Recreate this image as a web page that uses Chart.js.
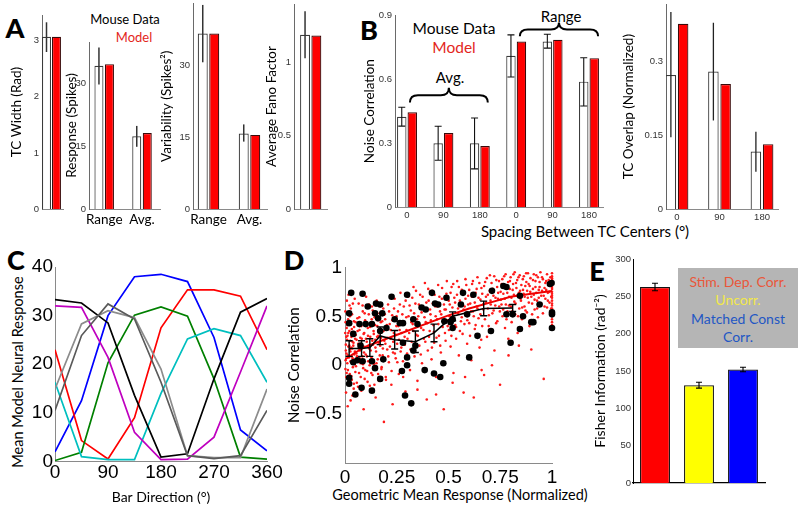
<!DOCTYPE html>
<html>
<head>
<meta charset="utf-8">
<title>Mouse data vs model</title>
<script src="https://cdn.jsdelivr.net/npm/chart.js@4.4.1/dist/chart.umd.min.js"></script>
<style>
  html, body { margin: 0; padding: 0; background: #fff; }
  #fig { position: relative; width: 800px; height: 511px; overflow: hidden; font-family: Lato, "Noto Sans", sans-serif; color: #000; }
  #fig canvas { position: absolute; }
  .lbl { position: absolute; white-space: nowrap; line-height: 1; transform: translate(-50%, -50%); }
  .rot { transform: translate(-50%, -50%) rotate(-90deg); }
  .letter { font-weight: 900; font-size: 27px; }
  .red { color: #e3261c; }
  #legendE { position: absolute; left: 678px; top: 268px; width: 120px; height: 80px; background: #b5b5b5;
             text-align: center; font-size: 14px; line-height: 18.3px; padding-top: 5px; box-sizing: border-box; }
</style>
</head>
<body>
<div id="fig">
  <div class="lbl letter" style="left:15px; top:27px">A</div>
  <div class="lbl letter" style="left:369px; top:29px">B</div>
  <div class="lbl letter" style="left:16px; top:259px">C</div>
  <div class="lbl letter" style="left:294px; top:259px">D</div>
  <div class="lbl letter" style="left:597px; top:270px">E</div>

  <div class="lbl" style="left:125px; top:19px; font-size:13px">Mouse Data</div>
  <div class="lbl red" style="left:134px; top:37px; font-size:13px">Model</div>
  <div class="lbl" style="left:454px; top:29px; font-size:15.5px">Mouse Data</div>
  <div class="lbl red" style="left:454px; top:48px; font-size:15.5px">Model</div>
  <div class="lbl" style="left:450px; top:77px; font-size:15px">Avg.</div>
  <div class="lbl" style="left:561px; top:16px; font-size:15px">Range</div>
  <div class="lbl" style="left:585px; top:231px; font-size:15px">Spacing Between TC Centers (°)</div>
  <div class="lbl rot" style="left:18px; top:372px; font-size:14.5px">Mean Model Neural Response</div>
  <div class="lbl" style="left:460px; top:495px; font-size:14.5px">Geometric Mean Response (Normalized)</div>

  <div id="legendE">
    <div style="color:#e9573a">Stim. Dep. Corr.</div>
    <div style="color:#f2e84a">Uncorr.</div>
    <div style="color:#2357c4">Matched Const<br>Corr.</div>
  </div>
</div>

<script>
// ---------- panel A : tuning curve statistics ----------
const widthMouse = [3.07];
const widthMouseLo = [2.80];
const widthMouseHi = [3.33];
const widthModel = [3.07];
const widthTicks = [0, 1, 2, 3];

const statLabels = ["Range", "Avg."];
const respMouse = [34.3, 17.4];
const respMouseLo = [29.8, 14.9];
const respMouseHi = [38.7, 19.9];
const respModel = [34.7, 18.2];
const respTicks = [0, 15, 30];

const varMouse = [36.7, 15.8];
const varMouseLo = [30.7, 14.1];
const varMouseHi = [42.7, 17.7];
const varModel = [36.7, 15.5];
const varTicks = [0, 15, 30];

const fanoMouse = [1.19];
const fanoMouseLo = [1.03];
const fanoMouseHi = [1.35];
const fanoModel = [1.185];
const fanoTicks = [0, 0.5, 1];

// ---------- panel B : noise correlation and TC overlap vs spacing ----------
const spacingLabels = ["0", "90", "180", "0", "90", "180"];
const ncMouse = [0.424, 0.30, 0.30, 0.709, 0.776, 0.588];
const ncMouseLo = [0.38, 0.22, 0.18, 0.61, 0.745, 0.474];
const ncMouseHi = [0.468, 0.379, 0.418, 0.807, 0.81, 0.70];
const ncModel = [0.445, 0.348, 0.287, 0.776, 0.784, 0.698];
const ncTicks = [0, 0.3, 0.6, 0.9];
// curly braces over the "Avg." and "Range" groups (x in group index, y in correlation)
const ncBraces = [
  { from: 0.08, to: 2.22, base: 0.49, tip: 0.56 },
  { from: 3.10, to: 5.25, base: 0.80, tip: 0.865 }
];

const overlapLabels = ["0", "90", "180"];
const overlapMouse = [0.272, 0.279, 0.117];
const overlapMouseLo = [0.146, 0.18, 0.076];
const overlapMouseHi = [0.40, 0.378, 0.157];
const overlapModel = [0.376, 0.254, 0.132];
const overlapTicks = [0, 0.15, 0.3];

// ---------- panel C : model tuning curves ----------
const barDirections = [0, 45, 90, 135, 180, 225, 270, 315, 360];
const dirTicks = [0, 90, 180, 270, 360];
const respTicksC = [0, 10, 20, 30, 40];
const curveBlue = [2, 12.5, 30, 38, 38.5, 37, 25.5, 6.5, 2.2];
const curveRed = [23, 4.3, 0.5, 9, 27.5, 35.3, 35.3, 34, 23];
const curveGreen = [0.2, 1.9, 20.3, 30.1, 31.8, 29.9, 17, 0.9, 0.5];
const curveCyan = [16.3, 1, 0.4, 0.4, 14, 25.2, 27.3, 25.9, 16.3];
const curveMagenta = [32, 31.7, 21.4, 6, 0.4, 0.5, 5, 18.4, 32];
const curveBlack = [33.3, 32.6, 28.5, 13.6, 0.9, 1.6, 17, 30.7, 33.5];
const curveDarkGray = [10.5, 25.9, 32.4, 29.3, 16.3, 1.2, 0.6, 1.2, 10.5];
const curveLightGray = [14.9, 28.3, 31, 29.6, 19, 1.2, 0.8, 0.8, 14.9];

// ---------- panel D : noise correlation vs geometric mean response ----------
const gmTicks = [0, 0.25, 0.5, 0.75, 1];
const ncTicksD = [-0.5, 0, 0.5, 1];
// model neuron pairs [response, correlation]
const modelPairs = [
  [0.003,0.05],[0.004,0.21],[0.006,-0.12],[0.008,0.38],[0.002,0.55],[0.005,-0.28],[0.007,0.12],[0.009,0.66],
  [0.011,0.02],[0.012,0.3],[0.014,-0.05],[0.015,0.47],[0.016,0.19],[0.018,-0.2],[0.019,0.08],[0.021,0.35],
  [0.022,0.61],[0.023,-0.09],[0.025,0.25],[0.026,0.14],[0.027,-0.36],[0.029,0.42],[0.03,0.03],[0.031,0.29],
  [0.033,-0.15],[0.034,0.52],[0.035,0.17],[0.037,0.07],[0.038,-0.02],[0.039,0.34],[0.041,0.23],[0.042,-0.24],
  [0.043,0.45],[0.045,0.11],[0.046,0.01],[0.047,0.68],[0.049,0.27],[0.05,-0.07],[0.001,0.33],[0.002,-0.04],
  [0.003,0.44],[0.013,-0.42],[0.017,0.72],[0.028,0.58],[0.036,-0.31],[0.044,0.39],[0.024,0.16],[0.032,0.09],
  [0.04,0.2],[0.01,0.26],
  [0.052,0.31],[0.055,0.12],[0.057,-0.18],[0.06,0.48],[0.062,0.05],[0.064,0.22],[0.066,0.63],[0.068,-0.08],
  [0.07,0.36],[0.072,0.15],[0.075,0.02],[0.077,0.41],[0.079,-0.26],[0.081,0.27],[0.084,0.09],[0.086,0.55],
  [0.088,-0.03],[0.09,0.19],[0.093,0.33],[0.095,-0.14],[0.097,0.46],[0.1,0.11],[0.102,0.7],[0.105,0.24],
  [0.107,-0.06],[0.11,0.38],[0.112,0.04],[0.115,0.52],[0.117,0.17],[0.12,-0.21],[0.122,0.29],[0.125,0.43],
  [0.128,0.08],[0.13,0.6],[0.133,-0.1],[0.135,0.21],[0.138,0.35],[0.14,0.01],[0.143,0.49],[0.146,0.26],
  [0.148,-0.33],[0.15,0.14],[0.153,0.66],[0.156,0.4],[0.158,0.06],[0.161,0.3],[0.164,-0.16],[0.167,0.53],
  [0.17,0.2],[0.173,0.44],[0.176,-0.04],[0.179,0.34],[0.182,0.1],[0.185,0.58],[0.188,-0.58],[0.19,0.25],
  [0.194,0.47],[0.197,-0.12],[0.2,0.37],[0.204,0.16],[0.208,0.62],[0.212,0.03],[0.216,0.42],[0.22,0.27],
  [0.224,-0.2],[0.228,0.51],[0.232,0.13],[0.236,0.33],[0.24,0.68],[0.245,0.07],[0.248,0.4],
  [0.252,0.22],[0.256,0.55],[0.26,-0.09],[0.264,0.36],[0.268,0.74],[0.272,0.18],[0.276,0.45],[0.28,0.04],
  [0.284,0.6],[0.288,0.29],[0.292,-0.27],[0.296,0.49],[0.3,0.12],[0.305,0.7],[0.31,0.33],[0.314,-0.05],
  [0.318,0.56],[0.322,0.24],[0.327,0.42],[0.331,0.8],[0.336,0.09],[0.34,0.63],[0.345,0.31],[0.35,-0.16],
  [0.354,0.5],[0.359,0.2],[0.363,0.72],[0.368,0.38],[0.372,0.02],[0.377,0.58],[0.381,0.27],[0.386,0.84],
  [0.39,0.44],[0.395,-0.35],[0.4,0.15],[0.404,0.66],[0.409,0.35],[0.413,0.52],[0.418,0.06],[0.422,0.76],
  [0.427,0.41],[0.431,0.23],[0.436,0.6],[0.44,-0.12],[0.445,0.47],[0.45,0.82],[0.454,0.3],[0.459,0.55],
  [0.463,0.13],[0.468,0.68],[0.472,0.39],[0.477,-0.45],[0.481,0.57],[0.486,0.25],[0.49,0.73],[0.495,0.46],
  [0.502,0.36],[0.506,0.62],[0.51,0.19],[0.515,0.8],[0.52,0.5],[0.524,-0.08],[0.528,0.69],[0.533,0.41],
  [0.537,0.27],[0.542,0.86],[0.546,0.58],[0.55,0.1],[0.555,0.66],[0.56,0.45],[0.564,0.77],[0.568,0.32],
  [0.573,-0.28],[0.578,0.6],[0.582,0.88],[0.586,0.52],[0.59,0.22],[0.595,0.71],[0.6,0.43],[0.605,0.63],
  [0.61,0.05],[0.614,0.83],[0.618,0.55],[0.622,-0.33],[0.627,0.37],[0.631,0.74],[0.636,0.6],[0.64,0.9],
  [0.645,0.48],[0.65,0.18],[0.654,0.67],[0.659,0.79],[0.663,0.4],[0.668,0.57],[0.672,-0.1],[0.677,0.85],
  [0.681,0.64],[0.686,0.29],[0.69,0.72],[0.695,0.51],[0.7,0.92],[0.704,0.62],[0.709,0.35],[0.713,0.78],
  [0.718,0.56],[0.722,0.15],[0.727,0.69],[0.731,0.87],[0.736,0.45],[0.74,0.74],[0.745,0.6],[0.749,-0.2],
  [0.753,0.67],[0.757,0.83],[0.761,0.5],[0.765,0.73],[0.769,0.91],[0.773,0.38],[0.777,0.62],[0.781,0.79],
  [0.785,0.55],[0.789,0.27],[0.793,0.7],[0.797,0.86],[0.801,0.6],[0.805,0.44],[0.81,0.77],[0.814,0.93],
  [0.818,0.65],[0.822,0.52],[0.826,0.84],[0.83,0.71],[0.834,0.33],[0.838,0.9],[0.842,0.58],[0.846,0.76],
  [0.85,0.66],[0.855,0.47],[0.859,0.88],[0.863,0.73],[0.867,0.6],[0.871,0.81],[0.875,0.94],[0.879,0.54],
  [0.883,0.69],[0.887,0.83],[0.891,0.4],[0.895,0.75],[0.9,0.16],[0.904,0.63],[0.908,0.87],[0.912,0.72],
  [0.916,0.57],[0.92,0.8],[0.924,0.92],[0.928,0.66],[0.932,0.49],[0.936,0.77],[0.94,0.85],[0.944,0.61],
  [0.948,0.71],[0.952,0.9],[0.956,0.53],[0.96,-0.14],[0.964,0.79],[0.968,0.68],[0.972,0.86],[0.976,0.59],
  [0.98,0.74],[0.984,0.82],[0.988,0.64],[0.992,0.9],[0.996,0.7],
  [1,0.41],[1,0.47],[1,0.53],[1,0.58],[1,0.63],[1,0.66],[1,0.71],[1,0.75],[1,0.8],[1,0.83],[1,0.87],[1,0.91],
  // second pass over the dense parts of the cloud
  [0.004,0.15],[0.006,0.29],[0.008,-0.08],[0.011,0.41],[0.013,0.1],[0.016,0.33],[0.019,-0.16],[0.021,0.2],
  [0.024,0.5],[0.026,0.04],[0.029,0.18],[0.031,-0.11],[0.033,0.37],[0.036,0.24],[0.038,0.63],[0.041,0.06],
  [0.043,-0.19],[0.046,0.31],[0.048,0.14],[0.051,0.44],[0.053,-0.01],[0.056,0.26],[0.058,0.09],[0.061,0.35],
  [0.063,-0.22],[0.066,0.17],[0.069,0.49],[0.071,0.07],[0.074,0.28],[0.076,-0.12],[0.079,0.4],[0.082,0.19],
  [0.085,0.61],[0.087,0.01],[0.09,0.32],[0.092,0.13],[0.095,0.53],[0.098,-0.05],[0.101,0.27],[0.104,0.44],
  [0.106,0.09],[0.109,-0.17],[0.111,0.3],[0.114,0.2],[0.116,0.62],[0.119,0.0],[0.121,0.39],[0.124,0.15],
  [0.127,-0.08],[0.129,0.47],[0.132,0.25],[0.134,0.56],[0.137,0.05],[0.139,0.32],[0.142,-0.2],[0.145,0.41],
  [0.147,0.18],[0.15,0.54],[0.152,0.02],[0.155,0.29],[0.157,0.46],[0.16,-0.09],[0.163,0.23],[0.166,0.37],
  [0.168,0.1],[0.171,0.6],[0.174,0.28],[0.177,-0.02],[0.18,0.45],[0.183,0.17],[0.186,0.35],[0.189,0.06],
  [0.192,0.52],[0.195,0.22],[0.198,-0.15],[0.202,0.41],[0.205,0.28],[0.209,0.09],[0.213,0.55],[0.217,0.19],
  [0.221,0.36],[0.225,-0.06],[0.229,0.46],[0.233,0.24],[0.237,0.58],[0.241,0.12],[0.245,0.31],[0.249,0.5],
  [0.253,0.03],[0.257,0.4],[0.261,0.26],[0.265,0.62],[0.269,0.14],[0.273,0.33],[0.277,0.52],[0.281,-0.12],
  [0.285,0.43],[0.289,0.21],[0.293,0.66],[0.297,0.36],
  [0.302,0.27],[0.307,0.5],[0.312,0.61],[0.316,0.16],[0.321,0.44],[0.325,0.69],[0.33,0.35],[0.334,0.53],
  [0.339,0.22],[0.343,0.76],[0.348,0.47],[0.352,0.3],[0.357,0.62],[0.361,0.41],[0.366,0.11],[0.37,0.54],
  [0.375,0.7],[0.379,0.36],[0.384,0.49],[0.388,0.24],[0.393,0.64],[0.397,0.43],[0.402,0.78],[0.406,0.29],
  [0.411,0.57],[0.415,0.46],[0.42,0.18],[0.424,0.63],[0.429,0.34],[0.433,0.72],[0.438,0.5],[0.442,0.28],
  [0.447,0.6],[0.451,0.42],[0.456,0.7],[0.46,0.2],[0.465,0.52],[0.469,0.79],[0.474,0.45],[0.478,0.62],
  [0.483,0.33],[0.487,0.57],[0.492,0.86],[0.496,0.4],[0.501,0.66],[0.505,0.5],[0.51,0.74],[0.514,0.3],
  [0.519,0.59],[0.523,0.83],[0.528,0.47],[0.532,0.64],[0.537,0.39],[0.541,0.72],[0.546,0.53],[0.55,0.8],
  [0.555,0.35],[0.559,0.61],[0.564,0.49],[0.568,0.75],[0.573,0.57],[0.577,0.42],[0.582,0.68],[0.586,0.82],
  [0.591,0.46],[0.595,0.62],[0.6,0.77],[0.604,0.3],[0.609,0.55],[0.613,0.7],[0.618,0.86],[0.622,0.5],
  [0.627,0.64],[0.631,0.41],[0.636,0.78],[0.64,0.58],[0.645,0.69],[0.649,0.84],[0.654,0.52],[0.658,0.26],
  [0.663,0.73],[0.667,0.62],[0.672,0.81],[0.676,0.47],[0.681,0.7],[0.685,0.89],[0.69,0.58],[0.694,0.4],
  [0.699,0.76],[0.703,0.66],[0.708,0.84],[0.712,0.53],[0.717,0.71],[0.721,0.91],[0.726,0.61],[0.73,0.43],
  [0.735,0.8],[0.739,0.68],[0.744,0.86],[0.748,0.55],
  [0.752,0.75],[0.756,0.62],[0.76,0.88],[0.764,0.57],[0.768,0.8],[0.772,0.68],[0.776,0.93],[0.78,0.47],
  [0.784,0.74],[0.788,0.85],[0.792,0.61],[0.796,0.78],[0.8,0.9],[0.804,0.69],[0.808,0.55],[0.812,0.83],
  [0.816,0.72],[0.82,0.95],[0.824,0.63],[0.828,0.79],[0.832,0.87],[0.836,0.5],[0.84,0.74],[0.844,0.92],
  [0.848,0.68],[0.852,0.82],[0.856,0.59],[0.86,0.77],[0.864,0.91],[0.868,0.7],[0.872,0.56],[0.876,0.85],
  [0.88,0.76],[0.884,0.94],[0.888,0.64],[0.892,0.81],[0.896,0.89],[0.9,0.7],[0.904,0.52],[0.908,0.78],
  [0.912,0.93],[0.916,0.67],[0.92,0.86],[0.924,0.74],[0.928,0.58],[0.932,0.9],[0.936,0.69],[0.94,0.8],
  [0.944,0.95],[0.948,0.63],[0.952,0.76],[0.956,0.88],[0.96,0.71],[0.964,0.6],[0.968,0.84],[0.972,0.77],
  [0.976,0.93],[0.98,0.66],[0.984,0.87],[0.988,0.75],[0.992,0.81],[0.996,0.58],
  [1,0.44],[1,0.5],[1,0.56],[1,0.61],[1,0.69],[1,0.73],[1,0.78],[1,0.85],[1,0.89],[1,0.94],
  [0.35,-0.25],[0.52,-0.18],[0.66,-0.05],[0.71,0.0],[0.84,0.2],[0.44,-0.3],[0.23,-0.4],[0.09,-0.45],
  [0.58,-0.12],[0.79,0.1]
];
// recorded mouse pairs [response, correlation]
const mousePairs = [
  [0.03,0.74],[0.085,0.73],[0.02,0.53],[0.02,0.43],[0.04,0.32],[0.15,0.63],[0.17,0.62],[0.145,0.53],
  [0.16,0.48],[0.18,0.53],[0.17,0.35],[0.11,0.6],[0.13,0.42],[0.10,0.42],[0.07,0.42],[0.04,0.03],
  [0.06,0.05],[0.02,-0.13],[0.02,-0.19],[0.08,-0.23],[0.13,-0.26],[0.05,-0.3],[0.17,-0.14],[0.145,-0.03],
  [0.085,0.04],[0.13,0.04],[0.185,0.06],[0.075,0.2],[0.2,0.38],
  [0.225,0.70],[0.30,0.72],[0.42,0.74],[0.39,0.57],[0.435,0.63],[0.45,0.62],[0.49,0.69],[0.57,0.74],
  [0.62,0.72],[0.71,0.76],[0.765,0.81],[0.78,0.80],[0.845,0.71],[0.24,0.47],[0.265,0.43],[0.28,0.43],
  [0.33,0.47],[0.35,0.42],[0.37,0.59],[0.51,0.44],[0.52,0.47],[0.59,0.52],[0.48,0.45],[0.52,0.38],
  [0.56,0.62],[0.64,0.30],[0.705,0.35],[0.78,0.52],[0.81,0.52],[0.80,0.23],[0.845,0.37],[0.86,0.50],
  [0.9,0.44],[0.28,0.23],[0.33,0.15],[0.34,0.20],[0.30,0.08],[0.275,-0.06],[0.3,0.0],[0.385,-0.05],
  [0.43,-0.085],[0.46,-0.12],[0.475,0.02],[0.6,0.08],[0.29,-0.31],[0.32,-0.39],
  [0.91,0.44],[0.94,0.62],[0.998,0.84],[0.99,0.83],[1.0,0.54],[1.0,0.52],[1.0,0.38]
];
// binned mouse mean with error, and model mean curve
const mouseBinX = [0.02, 0.08, 0.12, 0.17, 0.24, 0.34, 0.43, 0.52, 0.67, 0.81];
const mouseBinY = [0.17, 0.17, 0.18, 0.30, 0.26, 0.24, 0.33, 0.50, 0.58, 0.585];
const mouseBinErr = [0.08, 0.08, 0.09, 0.09, 0.095, 0.11, 0.09, 0.045, 0.075, 0.035];
const modelMeanX = [0, 0.05, 0.1, 0.15, 0.2, 0.3, 0.4, 0.5, 0.6, 0.7, 0.8, 0.9, 1];
const modelMeanY = [0.06, 0.13, 0.19, 0.23, 0.27, 0.35, 0.43, 0.51, 0.58, 0.64, 0.7, 0.73, 0.76];

// ---------- panel E : Fisher information ----------
const fisherLabels = ["Stim. Dep. Corr.", "Uncorr.", "Matched Const Corr."];
const fisherValues = [262.5, 131, 152];
const fisherErr = [5, 4, 3];
const fisherTicks = [0, 50, 100, 150, 200, 250, 300];

// ================= drawing =================
const fig = document.getElementById("fig");
const smallTick = { family: "Liberation Sans", size: 9.5 };
const bigTick = { family: "Liberation Sans", size: 19 };

// canvas rectangle so the chart area lands on L,T,R,B (page pixels)
function frame(b) {
    const x = Math.round(b.tx - b.lh / 2);
    const y = Math.floor(b.T - b.padT);
    const w = Math.round(b.R + b.padR - x);
    const h = Math.round(b.B + b.xH - y);
    return { x, y, w, h, yW: b.L - x, padT: b.T - y, padR: x + w - b.R, xH: y + h - b.B };
}

function addCanvas(f) {
    const c = document.createElement("canvas");
    c.width = f.w;
    c.height = f.h;
    c.style.left = f.x + "px";
    c.style.top = f.y + "px";
    fig.appendChild(c);
    return c.getContext("2d");
}

function fmt(v) {
    return v < 0 ? "\u2212" + Math.abs(v) : String(v);
}

function baseOptions(f, scales) {
    return {
        animation: false,
        responsive: false,
        events: [],
        layout: { autoPadding: false, padding: { top: f.padT, right: f.padR, bottom: 0, left: 0 } },
        plugins: { legend: { display: false }, tooltip: { enabled: false } },
        scales: scales
    };
}

function yAxis(f, o) {
    return {
        min: o.min || 0,
        max: o.max,
        afterFit: s => { s.width = f.yW; },
        afterBuildTicks: s => { s.ticks = o.ticks.map(v => ({ value: v })); },
        grid: { display: false, drawTicks: false },
        border: { display: true, color: o.axisColor || "#6a6a6a", width: 1 },
        ticks: { padding: o.tickPad || 3, color: o.tickColor || "#333", font: o.tickFont || smallTick, callback: v => fmt(v) },
        title: { display: !!o.title, text: o.title || "", padding: 0, color: "#000", font: { family: "Lato", size: o.titleSize || 14, lineHeight: 1.2 } }
    };
}

// vertical error bars on one dataset, optional caps
function errorBars(dsIndex, lo, hi, st) {
    return {
        id: "err" + dsIndex,
        afterDatasetsDraw(chart) {
            const meta = chart.getDatasetMeta(dsIndex);
            const ys = chart.scales.y;
            const ctx = chart.ctx;
            ctx.save();
            ctx.strokeStyle = st.color;
            ctx.lineWidth = st.width;
            meta.data.forEach((el, i) => {
                const x = el.x;
                const y1 = ys.getPixelForValue(lo[i]);
                const y2 = ys.getPixelForValue(hi[i]);
                ctx.beginPath();
                ctx.moveTo(x, y1);
                ctx.lineTo(x, y2);
                if (st.cap) {
                    ctx.moveTo(x - st.cap, y1); ctx.lineTo(x + st.cap, y1);
                    ctx.moveTo(x - st.cap, y2); ctx.lineTo(x + st.cap, y2);
                }
                ctx.stroke();
            });
            ctx.restore();
        }
    };
}

// curly braces drawn in data coordinates
function bracePlugin(list) {
    return {
        id: "braces",
        afterDatasetsDraw(chart) {
            const xs = chart.scales.x, ys = chart.scales.y, ctx = chart.ctx;
            ctx.save();
            ctx.strokeStyle = "#000";
            ctx.lineWidth = 2;
            list.forEach(b => {
                const x1 = xs.getPixelForValue(b.from), x2 = xs.getPixelForValue(b.to);
                const yb = ys.getPixelForValue(b.base), yt = ys.getPixelForValue(b.tip);
                const xm = (x1 + x2) / 2, ym = (yb + yt) / 2, r = 8;
                ctx.beginPath();
                ctx.moveTo(x1, yb);
                ctx.quadraticCurveTo(x1, ym, x1 + r, ym);
                ctx.lineTo(xm - r, ym);
                ctx.quadraticCurveTo(xm, ym, xm, yt);
                ctx.quadraticCurveTo(xm, ym, xm + r, ym);
                ctx.lineTo(x2 - r, ym);
                ctx.quadraticCurveTo(x2, ym, x2, yb);
                ctx.stroke();
            });
            ctx.restore();
        }
    };
}

// white (mouse) / red (model) paired bars on a linear x scale
function barPanel(box, s) {
    const f = frame(box);
    const pos = s.mouse.map((v, i) => i);
    const xy = vals => vals.map((v, i) => ({ x: i, y: v }));
    return new Chart(addCanvas(f), {
        type: "bar",
        data: {
            datasets: [
                { data: xy(s.mouse), backgroundColor: "#fff", borderColor: "#3a3a3a", borderWidth: 1.2,
                  categoryPercentage: box.catPct, barPercentage: box.barPct },
                { data: xy(s.model), backgroundColor: "#ff0000", borderColor: "#3a0a0a", borderWidth: 1.2,
                  categoryPercentage: box.catPct, barPercentage: box.barPct }
            ]
        },
        options: baseOptions(f, {
            x: {
                type: "linear", min: box.xMin, max: box.xMax, offset: false,
                afterFit: sc => { sc.height = f.xH; },
                afterBuildTicks: sc => { sc.ticks = pos.map(v => ({ value: v })); },
                grid: { display: false, drawTicks: false, offset: false },
                border: { display: true, color: "#8a8a8a", width: 1 },
                ticks: {
                    display: !!s.labels, padding: s.labelPad || 3, color: s.labelColor || "#333",
                    font: s.labelFont || smallTick, maxRotation: 0, autoSkip: false,
                    callback: (v, i) => (s.labels ? s.labels[i] : "")
                }
            },
            y: yAxis(f, { max: s.max, ticks: s.ticks, title: s.title, titleSize: 13.5 })
        }),
        plugins: [errorBars(0, s.lo, s.hi, s.err)].concat(s.extra || [])
    });
}

const errA = { color: "#333", width: 1.5, cap: 0 };
const labelFontA = { family: "Lato", size: 13.5 };

// --- A ---
barPanel({ L: 42, T: 15, R: 63, B: 209, tx: 17, lh: 16.2, padT: 9, padR: 4, xH: 9,
           xMin: -0.452, xMax: 0.548, catPct: 0.95, barPct: 0.9 },
         { mouse: widthMouse, lo: widthMouseLo, hi: widthMouseHi, model: widthModel,
           max: 3.46, ticks: widthTicks, title: "TC Width (Rad)", err: errA });

barPanel({ L: 89, T: 42, R: 160, B: 209, tx: 72, lh: 16.2, padT: 9, padR: 6, xH: 24,
           xMin: -0.402, xMax: 1.476, catPct: 0.556, barPct: 0.86 },
         { mouse: respMouse, lo: respMouseLo, hi: respMouseHi, model: respModel, labels: statLabels,
           labelFont: labelFontA, labelColor: "#000", labelPad: 2.5,
           max: 40, ticks: respTicks, title: "Response (Spikes)", err: errA });

barPanel({ L: 193, T: 3.5, R: 267, B: 209, tx: 167, lh: 16.2, padT: 9, padR: 6, xH: 24,
           xMin: -0.378, xMax: 1.427, catPct: 0.561, barPct: 0.87 },
         { mouse: varMouse, lo: varMouseLo, hi: varMouseHi, model: varModel, labels: statLabels,
           labelFont: labelFontA, labelColor: "#000", labelPad: 2.5,
           max: 43, ticks: varTicks, title: "Variability (Spikes\u00B2)", err: errA });

barPanel({ L: 294, T: 4, R: 327, B: 209, tx: 272, lh: 16.2, padT: 9, padR: 4, xH: 9,
           xMin: -0.506, xMax: 0.494, catPct: 0.685, barPct: 0.88 },
         { mouse: fanoMouse, lo: fanoMouseLo, hi: fanoMouseHi, model: fanoModel,
           max: 1.40, ticks: fanoTicks, title: "Average Fano Factor", err: errA });

// --- B ---
barPanel({ L: 395, T: 15, R: 603, B: 207.3, tx: 370, lh: 16.2, padT: 9, padR: 4, xH: 16,
           xMin: -0.33, xMax: 5.385, catPct: 0.577, barPct: 0.9 },
         { mouse: ncMouse, lo: ncMouseLo, hi: ncMouseHi, model: ncModel, labels: spacingLabels, labelPad: 2.5,
           max: 0.9, ticks: ncTicks, title: "Noise Correlation",
           err: { color: "#111", width: 1.1, cap: 3.5 }, extra: [bracePlugin(ncBraces)] });

barPanel({ L: 666, T: 4, R: 778, B: 209.3, tx: 629, lh: 16.2, padT: 9, padR: 6, xH: 16,
           xMin: -0.259, xMax: 2.376, catPct: 0.576, barPct: 0.86 },
         { mouse: overlapMouse, lo: overlapMouseLo, hi: overlapMouseHi, model: overlapModel, labels: overlapLabels,
           labelPad: 2.5, max: 0.416, ticks: overlapTicks, title: "TC Overlap (Normalized)",
           err: { color: "#222", width: 1.3, cap: 0 } });

// --- C ---
const curves = [
    { vals: curveDarkGray, color: "#5a5a5a" },
    { vals: curveLightGray, color: "#8c8c8c" },
    { vals: curveBlack, color: "#000000" },
    { vals: curveMagenta, color: "#bf00bf" },
    { vals: curveCyan, color: "#00bfbf" },
    { vals: curveGreen, color: "#008000" },
    { vals: curveRed, color: "#ff0000" },
    { vals: curveBlue, color: "#0000ff" }
];
const fC = frame({ L: 55, T: 267, R: 267, B: 461.5, tx: 18, lh: 17.4, padT: 14, padR: 22, xH: 44 });
new Chart(addCanvas(fC), {
    type: "line",
    data: {
        datasets: curves.map(c => ({
            data: barDirections.map((d, i) => ({ x: d, y: c.vals[i] })),
            borderColor: c.color, borderWidth: 1.7, pointRadius: 0, tension: 0, fill: false
        }))
    },
    options: baseOptions(fC, {
        x: {
            type: "linear", min: 0, max: 360,
            afterFit: sc => { sc.height = fC.xH; },
            afterBuildTicks: sc => { sc.ticks = dirTicks.map(v => ({ value: v })); },
            grid: { display: false, drawTicks: false },
            border: { display: true, color: "#8a8a8a", width: 1 },
            ticks: { padding: 0, color: "#000", font: bigTick, maxRotation: 0, autoSkip: false, callback: v => String(v) },
            title: { display: true, text: "Bar Direction (\u00B0)", padding: 0, color: "#000", font: { family: "Lato", size: 14, lineHeight: 1.2 } }
        },
        y: yAxis(fC, { max: 40, ticks: respTicksC, tickFont: bigTick, tickColor: "#000", tickPad: 2, axisColor: "#8a8a8a" })
    })
});

// --- D ---
const fD = frame({ L: 345, T: 267, R: 552, B: 463, tx: 294, lh: 18, padT: 14, padR: 10, xH: 41 });
const pts = list => list.map(p => ({ x: p[0], y: p[1] }));
new Chart(addCanvas(fD), {
    type: "scatter",
    data: {
        datasets: [
            { data: pts(modelPairs), pointRadius: 1.3, backgroundColor: "#ff1a1a", borderWidth: 0, order: 4, clip: 4 },
            { data: modelMeanX.map((x, i) => ({ x: x, y: modelMeanY[i] })), showLine: true, borderColor: "#ee0000",
              borderWidth: 2, pointRadius: 0, order: 3 },
            { data: pts(mousePairs), pointRadius: 3.3, backgroundColor: "#000", borderWidth: 0, order: 2, clip: 6 },
            { data: mouseBinX.map((x, i) => ({ x: x, y: mouseBinY[i] })), showLine: true, borderColor: "#000",
              borderWidth: 1.6, pointRadius: 0, order: 1 }
        ]
    },
    options: baseOptions(fD, {
        x: {
            type: "linear", min: 0, max: 1,
            afterFit: sc => { sc.height = fD.xH; },
            afterBuildTicks: sc => { sc.ticks = gmTicks.map(v => ({ value: v })); },
            grid: { display: false, drawTicks: false },
            border: { display: true, color: "#8a8a8a", width: 1 },
            ticks: { padding: 3, color: "#000", font: bigTick, maxRotation: 0, autoSkip: false, callback: v => String(v) }
        },
        y: yAxis(fD, { min: -1, max: 1, ticks: ncTicksD, title: "Noise Correlation", titleSize: 15,
                       tickFont: bigTick, tickColor: "#000", tickPad: 3, axisColor: "#8a8a8a" })
    }),
    plugins: [errorBars(3, mouseBinY.map((v, i) => v - mouseBinErr[i]), mouseBinY.map((v, i) => v + mouseBinErr[i]),
                        { color: "#000", width: 1.4, cap: 3.5 })]
});

// --- E ---
const fE = frame({ L: 633, T: 259, R: 765, B: 483, tx: 600, lh: 16.8, padT: 9, padR: 4, xH: 9 });
new Chart(addCanvas(fE), {
    type: "bar",
    data: {
        labels: fisherLabels,
        datasets: [{
            data: fisherValues,
            backgroundColor: ["#ff0000", "#ffff00", "#0000ff"],
            borderColor: "#111", borderWidth: 1.2,
            categoryPercentage: 1, barPercentage: 0.68
        }]
    },
    options: baseOptions(fE, {
        x: {
            afterFit: sc => { sc.height = fE.xH; },
            grid: { display: false, drawTicks: false },
            border: { display: true, color: "#000", width: 1.2 },
            ticks: { display: false }
        },
        y: yAxis(fE, { max: 300, ticks: fisherTicks, title: "Fisher Information (rad\u207B\u00B2)", titleSize: 14,
                       tickPad: 2, axisColor: "#000" })
    }),
    plugins: [errorBars(0, fisherValues.map((v, i) => v - fisherErr[i]), fisherValues.map((v, i) => v + fisherErr[i]),
                        { color: "#000", width: 1.1, cap: 3 })]
});
</script>
</body>
</html>
